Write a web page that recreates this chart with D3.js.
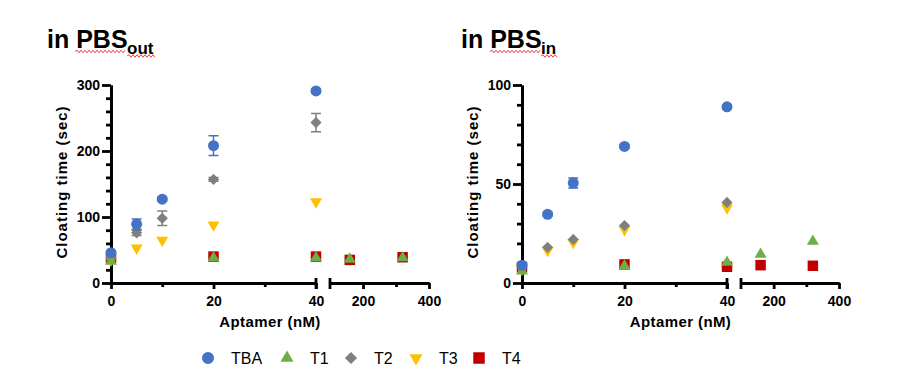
<!DOCTYPE html>
<html>
<head>
<meta charset="utf-8">
<script src="https://cdn.jsdelivr.net/npm/d3@7"></script>
<style>
  body { margin: 0; background: #fff; }
  svg { font-family: Arial, "Liberation Sans", sans-serif; }
</style>
</head>
<body>
<div id="chart"></div>
<script>
// concentrations (nM)
const concShort = [0, 5, 10, 20, 40];
const concLong = [0, 20, 40, 160, 320];

// PBS out
const outTBA = [46, 89, 127, 208, 291];
const outTBAErr = [3, 8, 3, 15, 3];
const outT1 = [33, 38, 38, 36, 38];
const outT2 = [38, 76, 98, 157, 243];
const outT2Err = [2, 4, 11, 3, 14];
const outT3 = [35, 53, 65, 88, 123];
const outT4 = [38, 40, 40, 35, 39];

// PBS in
const inTBA = [9, 34.7, 50.5, 69, 89];
const inTBAErr = [1.5, 1, 2.5, 1, 1];
const inT1 = [6, 8.6, 10.4, 14.5, 21];
const inT2 = [8, 18, 22, 29, 40.7];
const inT3 = [7, 16.5, 20.5, 27, 38];
const inT4 = [8, 9.4, 8.2, 9, 8.7];

const seriesNames = ["TBA", "T1", "T2", "T3", "T4"];
const colors = { TBA: "#4472C4", T1: "#70AD47", T2: "#7F7F7F", T3: "#FFC000", T4: "#C00000" };

const symbolFor = {
  TBA: { type: d3.symbolCircle, size: 95, rot: 0 },
  T1: { type: d3.symbolTriangle, size: 62, rot: 0 },
  T2: { type: d3.symbolSquare, size: 62, rot: 45 },
  T3: { type: d3.symbolTriangle, size: 62, rot: 180 },
  T4: { type: d3.symbolSquare, size: 110, rot: 0 }
};

const panels = [
  {
    title: "in PBS", sub: "out", tx: 47, subX: 127, squig: [75, 155],
    yMax: 300, yMajor: [0, 100, 200, 300], yMinorStep: 20,
    x0: 111, x40: 316, x100: 330, x400: 429,
    series: [
      { name: "TBA", x: concShort, y: outTBA, err: outTBAErr },
      { name: "T1", x: concLong, y: outT1 },
      { name: "T2", x: concShort, y: outT2, err: outT2Err },
      { name: "T3", x: concShort, y: outT3 },
      { name: "T4", x: concLong, y: outT4 }
    ]
  },
  {
    title: "in PBS", sub: "in", tx: 461, subX: 541, squig: [490, 557],
    yMax: 100, yMajor: [0, 50, 100], yMinorStep: 10,
    x0: 522, x40: 727, x100: 741, x400: 839,
    series: [
      { name: "TBA", x: concShort, y: inTBA, err: inTBAErr },
      { name: "T1", x: concLong, y: inT1 },
      { name: "T2", x: concShort, y: inT2 },
      { name: "T3", x: concShort, y: inT3 },
      { name: "T4", x: concLong, y: inT4 }
    ]
  }
];

const W = 900, H = 390;
const Y_TOP = 85, Y_BOT = 283;
const AXIS_W = 2.8;

const svg = d3.select("#chart").append("svg")
  .attr("width", W).attr("height", H);

const squiggle = (x1, x2, y) => {
  let d = `M${x1},${y}`;
  let up = true;
  for (let x = x1 + 2; x <= x2; x += 2) {
    d += `L${x},${y + (up ? -1.3 : 1.3)}`;
    up = !up;
  }
  return d;
};

const styleAxis = (g) => {
  g.select(".domain").attr("stroke", "#000").attr("stroke-width", AXIS_W);
  g.selectAll(".tick line").attr("stroke", "#000").attr("stroke-width", AXIS_W);
  g.selectAll(".tick text")
    .attr("fill", "#000")
    .attr("font-size", 14)
    .attr("font-weight", "bold")
    .attr("font-family", "Arial, 'Liberation Sans', sans-serif");
};

panels.forEach(p => {
  const g = svg.append("g");

  // title
  g.append("text")
    .attr("x", p.tx).attr("y", 48)
    .attr("font-size", 25).attr("font-weight", "bold")
    .text(p.title);
  g.append("text")
    .attr("x", p.subX).attr("y", 54)
    .attr("font-size", 17).attr("font-weight", "bold")
    .text(p.sub);
  g.append("path")
    .attr("d", squiggle(p.squig[0], p.subX - 1, 51.5))
    .attr("fill", "none").attr("stroke", "#e53030").attr("stroke-width", 0.9);
  g.append("path")
    .attr("d", squiggle(p.subX, p.squig[1], 56))
    .attr("fill", "none").attr("stroke", "#e53030").attr("stroke-width", 0.9);

  const y = d3.scaleLinear().domain([0, p.yMax]).range([Y_BOT, Y_TOP]);
  const xA = d3.scaleLinear().domain([0, 40]).range([p.x0, p.x40]);
  const xB = d3.scaleLinear().domain([100, 400]).range([p.x100, p.x400]);
  const x = v => (v <= 40 ? xA(v) : xB(v));

  // y axis
  const minorY = d3.range(0, p.yMax + 0.1, p.yMinorStep).filter(v => !p.yMajor.includes(v));
  g.append("g")
    .attr("transform", `translate(${p.x0},0)`)
    .call(d3.axisLeft(y).tickValues(minorY).tickSize(5).tickSizeOuter(0).tickFormat(""))
    .call(styleAxis);
  g.append("g")
    .attr("transform", `translate(${p.x0},0)`)
    .call(d3.axisLeft(y).tickValues(p.yMajor).tickSize(9).tickPadding(2).tickSizeOuter(0))
    .call(styleAxis);

  // x axis, segment 1
  const gxA = g.append("g").attr("transform", `translate(0,${Y_BOT})`);
  gxA.append("g")
    .call(d3.axisBottom(xA).tickValues([10, 30]).tickSize(4).tickSizeOuter(0).tickFormat(""))
    .call(styleAxis);
  gxA.append("g")
    .call(d3.axisBottom(xA).tickValues([0, 20, 40]).tickSize(6).tickPadding(7).tickSizeOuter(0))
    .call(styleAxis);
  gxA.append("line")
    .attr("x1", xA(40)).attr("x2", xA(40)).attr("y1", -5).attr("y2", 6)
    .attr("stroke", "#000").attr("stroke-width", AXIS_W);

  // x axis, segment 2
  const gxB = g.append("g").attr("transform", `translate(0,${Y_BOT})`);
  gxB.append("g")
    .call(d3.axisBottom(xB).tickValues([300]).tickSize(4).tickSizeOuter(0).tickFormat(""))
    .call(styleAxis);
  gxB.append("g")
    .call(d3.axisBottom(xB).tickValues([200, 400]).tickSize(6).tickPadding(7).tickSizeOuter(0))
    .call(styleAxis);
  gxB.append("line")
    .attr("x1", xB(100)).attr("x2", xB(100)).attr("y1", -5).attr("y2", 6)
    .attr("stroke", "#000").attr("stroke-width", AXIS_W);

  // axis titles
  g.append("text")
    .attr("x", (p.x0 + p.x400) / 2).attr("y", 327)
    .attr("text-anchor", "middle")
    .attr("font-size", 15).attr("font-weight", "bold")
    .attr("letter-spacing", 0.4)
    .text("Aptamer (nM)");
  g.append("text")
    .attr("transform", `translate(${p.x0 - 44},${(Y_TOP + Y_BOT) / 2 - 2}) rotate(-90)`)
    .attr("text-anchor", "middle")
    .attr("font-size", 15).attr("font-weight", "bold")
    .attr("letter-spacing", 1)
    .text("Cloating time (sec)");

  // points, last series drawn first so TBA sits on top
  const drawOrder = p.series.slice().reverse();
  drawOrder.forEach(s => {
    const pts = s.x.map((xv, i) => ({ x: xv, y: s.y[i], e: s.err ? s.err[i] : 0 }));
    const sg = g.append("g");
    const sym = symbolFor[s.name];

    const withErr = pts.filter(d => d.e > 0);
    sg.selectAll("line.err")
      .data(withErr)
      .join("line")
        .attr("class", "err")
        .attr("x1", d => x(d.x)).attr("x2", d => x(d.x))
        .attr("y1", d => y(d.y - d.e)).attr("y2", d => y(d.y + d.e))
        .attr("stroke", colors[s.name]).attr("stroke-width", 1.5);
    sg.selectAll("path.cap")
      .data(withErr)
      .join("path")
        .attr("class", "cap")
        .attr("d", d => `M${x(d.x) - 5},${y(d.y + d.e)}h10M${x(d.x) - 5},${y(d.y - d.e)}h10`)
        .attr("stroke", colors[s.name]).attr("stroke-width", 1.5);

    sg.selectAll("path.pt")
      .data(pts)
      .join("path")
        .attr("class", "pt")
        .attr("d", d3.symbol(sym.type, sym.size))
        .attr("transform", d => `translate(${x(d.x)},${y(d.y)}) rotate(${sym.rot})`)
        .attr("fill", colors[s.name]);
  });
});

// legend
const legendX = [208, 287, 351, 416, 479];
const legend = svg.append("g").attr("transform", "translate(0,358)");
seriesNames.forEach((name, i) => {
  const sym = symbolFor[name];
  legend.append("path")
    .attr("d", d3.symbol(sym.type, sym.size * 1.2))
    .attr("transform", `translate(${legendX[i]},0) rotate(${sym.rot})`)
    .attr("fill", colors[name]);
  legend.append("text")
    .attr("x", legendX[i] + 23).attr("y", 6)
    .attr("font-size", 16)
    .text(name);
});
</script>
</body>
</html>
